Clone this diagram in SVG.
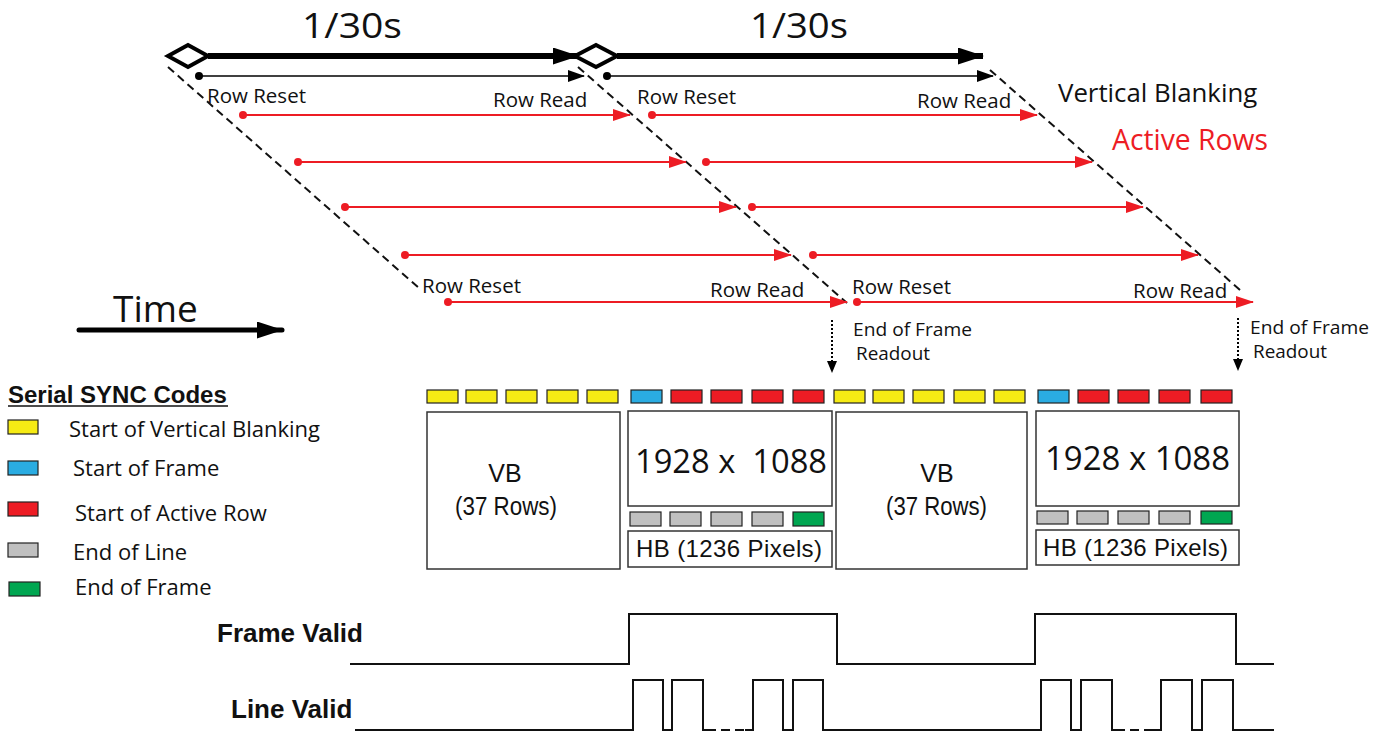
<svg xmlns="http://www.w3.org/2000/svg" width="1387" height="734" viewBox="0 0 1387 734">
<style>
.os{font-family:"Open Sans","Noto Sans",sans-serif;fill:#111}
.ar{font-family:"Liberation Sans",Arial,sans-serif;fill:#111}
.b{font-weight:bold}
.box{fill:#fff;stroke:#333;stroke-width:1.5}
.sc{stroke:#222;stroke-width:1.2}
.y{fill:#f6eb14}.bl{fill:#2aace2}.r{fill:#ed1c24}.g{fill:#c0c0c0}.gr{fill:#00a651}
.red{stroke:#ed1c24;stroke-width:2;fill:none}
.dash{stroke:#111;stroke-width:2;stroke-dasharray:8 5;fill:none}
.wave{stroke:#111;stroke-width:2;fill:none}
</style>
<defs>
<marker id="hThick" markerUnits="userSpaceOnUse" markerWidth="26" markerHeight="17" refX="25" refY="8.5" orient="auto"><path d="M0,0 L26,8.5 L0,17 z" fill="#000"/></marker>
<marker id="hThin" markerUnits="userSpaceOnUse" markerWidth="17" markerHeight="12" refX="16" refY="6" orient="auto"><path d="M0,0 L17,6 L0,12 z" fill="#000"/></marker>
<marker id="hRed" markerUnits="userSpaceOnUse" markerWidth="18" markerHeight="12" refX="17" refY="6" orient="auto"><path d="M0,0 L18,6 L0,12 z" fill="#ed1c24"/></marker>
<marker id="dRed" markerUnits="userSpaceOnUse" markerWidth="10" markerHeight="10" refX="5" refY="5"><circle cx="5" cy="5" r="4" fill="#ed1c24"/></marker>
<marker id="dBlk" markerUnits="userSpaceOnUse" markerWidth="10" markerHeight="10" refX="5" refY="5"><circle cx="5" cy="5" r="4" fill="#000"/></marker>
<marker id="hDot" markerUnits="userSpaceOnUse" markerWidth="12" markerHeight="10" refX="11" refY="5" orient="auto"><path d="M0,0 L12,5 L0,10 z" fill="#000"/></marker>
</defs>
<rect width="1387" height="734" fill="#fff"/>

<g id="connectors">
  <polygon points="168,56 188,45 208,56 188,67" fill="#fff" stroke="#000" stroke-width="4"/>
  <line x1="208" y1="56" x2="578" y2="56" stroke="#000" stroke-width="6" marker-end="url(#hThick)"/>
  <polygon points="575,56 596,45 617,56 596,67" fill="#fff" stroke="#000" stroke-width="4"/>
  <line x1="617" y1="56" x2="983" y2="56" stroke="#000" stroke-width="6" marker-end="url(#hThick)"/>
  <line x1="199" y1="76" x2="584" y2="76" stroke="#000" stroke-width="1.5" marker-start="url(#dBlk)" marker-end="url(#hThin)"/>
  <line x1="607" y1="76" x2="993" y2="76" stroke="#000" stroke-width="1.5" marker-start="url(#dBlk)" marker-end="url(#hThin)"/>
  <line class="dash" x1="168" y1="67" x2="420" y2="289"/>
  <line class="dash" x1="578" y1="67" x2="847" y2="303"/>
  <line class="dash" x1="990" y1="70" x2="1240" y2="290"/>
  <line class="red" x1="243" y1="115" x2="630" y2="115" marker-start="url(#dRed)" marker-end="url(#hRed)"/>
  <line class="red" x1="652" y1="115" x2="1037" y2="115" marker-start="url(#dRed)" marker-end="url(#hRed)"/>
  <line class="red" x1="298" y1="162" x2="686" y2="162" marker-start="url(#dRed)" marker-end="url(#hRed)"/>
  <line class="red" x1="706" y1="162" x2="1092" y2="162" marker-start="url(#dRed)" marker-end="url(#hRed)"/>
  <line class="red" x1="345" y1="207" x2="736" y2="207" marker-start="url(#dRed)" marker-end="url(#hRed)"/>
  <line class="red" x1="752" y1="207" x2="1143" y2="207" marker-start="url(#dRed)" marker-end="url(#hRed)"/>
  <line class="red" x1="405" y1="255" x2="791" y2="255" marker-start="url(#dRed)" marker-end="url(#hRed)"/>
  <line class="red" x1="813" y1="255" x2="1198" y2="255" marker-start="url(#dRed)" marker-end="url(#hRed)"/>
  <line class="red" x1="448" y1="302" x2="847" y2="302" marker-start="url(#dRed)" marker-end="url(#hRed)"/>
  <line class="red" x1="857" y1="302" x2="1253" y2="302" marker-start="url(#dRed)" marker-end="url(#hRed)"/>
  <line x1="832" y1="320" x2="832" y2="372" stroke="#000" stroke-width="2" stroke-dasharray="2 2" marker-end="url(#hDot)"/>
  <line x1="1238" y1="318" x2="1238" y2="370" stroke="#000" stroke-width="2" stroke-dasharray="2 2" marker-end="url(#hDot)"/>
  <line x1="79" y1="330" x2="282" y2="330" stroke="#000" stroke-width="5" stroke-linecap="round" marker-end="url(#hThick)"/>
</g>

<g id="timing-labels">
  <text class="os" x="302" y="38" font-size="35.5" textLength="100" lengthAdjust="spacingAndGlyphs">1/30s</text>
  <text class="os" x="750" y="38" font-size="35.5" textLength="98" lengthAdjust="spacingAndGlyphs">1/30s</text>
  <text class="os" x="207" y="103" font-size="20.5">Row Reset</text>
  <text class="os" x="493" y="107" font-size="20.5">Row Read</text>
  <text class="os" x="637" y="104" font-size="20.5">Row Reset</text>
  <text class="os" x="917" y="108" font-size="20.5">Row Read</text>
  <text class="os" x="422" y="293" font-size="20.5">Row Reset</text>
  <text class="os" x="710" y="297" font-size="20.5">Row Read</text>
  <text class="os" x="852" y="294" font-size="20.5">Row Reset</text>
  <text class="os" x="1133" y="298" font-size="20.5">Row Read</text>
  <text class="os" x="1058" y="102" font-size="25.8">Vertical Blanking</text>
  <text class="os" x="1112" y="150" font-size="28.3" style="fill:#ed1c24">Active Rows</text>
  <text class="os" x="853" y="336" font-size="17.5" textLength="119" lengthAdjust="spacingAndGlyphs">End of Frame</text>
  <text class="os" x="856" y="360" font-size="17.5" textLength="74" lengthAdjust="spacingAndGlyphs">Readout</text>
  <text class="os" x="1250" y="334" font-size="17.5" textLength="119" lengthAdjust="spacingAndGlyphs">End of Frame</text>
  <text class="os" x="1253" y="358" font-size="17.5" textLength="74" lengthAdjust="spacingAndGlyphs">Readout</text>
  <text class="os" x="113" y="322" font-size="37">Time</text>
</g>

<g id="legend">
  <text class="ar b" x="8" y="403" font-size="24">Serial SYNC Codes</text>
  <line x1="8" y1="406" x2="228" y2="406" stroke="#111" stroke-width="1.5"/>
  <rect class="sc y" x="8" y="420" width="30" height="14"/>
  <rect class="sc bl" x="8" y="461" width="30" height="14"/>
  <rect class="sc r" x="8" y="502" width="30" height="14"/>
  <rect class="sc g" x="8" y="543" width="30" height="14"/>
  <rect class="sc gr" x="9" y="582" width="31" height="14"/>
  <text class="os" x="69" y="437" font-size="22">Start of Vertical Blanking</text>
  <text class="os" x="73" y="476" font-size="22">Start of Frame</text>
  <text class="os" x="75" y="521" font-size="22">Start of Active Row</text>
  <text class="os" x="73" y="560" font-size="22">End of Line</text>
  <text class="os" x="75" y="595" font-size="22">End of Frame</text>
</g>

<g id="sync-codes-1">
  <rect class="sc y" x="427" y="390" width="31" height="13"/>
  <rect class="sc y" x="466" y="390" width="31" height="13"/>
  <rect class="sc y" x="506" y="390" width="31" height="13"/>
  <rect class="sc y" x="547" y="390" width="31" height="13"/>
  <rect class="sc y" x="587" y="390" width="31" height="13"/>
  <rect class="sc bl" x="631" y="390" width="31" height="13"/>
  <rect class="sc r" x="671" y="390" width="31" height="13"/>
  <rect class="sc r" x="711" y="390" width="31" height="13"/>
  <rect class="sc r" x="752" y="390" width="31" height="13"/>
  <rect class="sc r" x="793" y="390" width="31" height="13"/>
</g>
<g id="sync-codes-2">
  <rect class="sc y" x="834" y="390" width="31" height="13"/>
  <rect class="sc y" x="873" y="390" width="31" height="13"/>
  <rect class="sc y" x="913" y="390" width="31" height="13"/>
  <rect class="sc y" x="954" y="390" width="31" height="13"/>
  <rect class="sc y" x="994" y="390" width="31" height="13"/>
  <rect class="sc bl" x="1038" y="390" width="31" height="13"/>
  <rect class="sc r" x="1078" y="390" width="31" height="13"/>
  <rect class="sc r" x="1118" y="390" width="31" height="13"/>
  <rect class="sc r" x="1159" y="390" width="31" height="13"/>
  <rect class="sc r" x="1201" y="390" width="31" height="13"/>
</g>

<g id="vb-1">
  <rect class="box" x="427" y="412" width="193" height="157"/>
  <text class="ar" x="505" y="482" font-size="25" text-anchor="middle">VB</text>
  <text class="ar" x="455" y="515" font-size="25" textLength="102" lengthAdjust="spacingAndGlyphs">(37 Rows)</text>
</g>
<g id="frame-1">
  <rect class="box" x="628" y="411" width="204" height="95"/>
  <text class="os" x="635" y="473" font-size="32" xml:space="preserve" textLength="192" lengthAdjust="spacingAndGlyphs">1928 x  1088</text>
</g>
<g id="eol-1">
  <rect class="sc g" x="630" y="512" width="31" height="14"/>
  <rect class="sc g" x="670" y="512" width="31" height="14"/>
  <rect class="sc g" x="711" y="512" width="31" height="14"/>
  <rect class="sc g" x="752" y="512" width="31" height="14"/>
  <rect class="sc gr" x="793" y="512" width="31" height="14"/>
</g>
<g id="hb-1">
  <rect class="box" x="628" y="531" width="204" height="36"/>
  <text class="ar" x="636" y="557" font-size="24" textLength="186" lengthAdjust="spacing">HB (1236 Pixels)</text>
</g>

<g id="vb-2">
  <rect class="box" x="836" y="412" width="191" height="157"/>
  <text class="ar" x="937" y="482" font-size="25" text-anchor="middle">VB</text>
  <text class="ar" x="886" y="515" font-size="25" textLength="101" lengthAdjust="spacingAndGlyphs">(37 Rows)</text>
</g>
<g id="frame-2">
  <rect class="box" x="1036" y="411" width="203" height="95"/>
  <text class="os" x="1045" y="470" font-size="32" textLength="185" lengthAdjust="spacingAndGlyphs">1928 x 1088</text>
</g>
<g id="eol-2">
  <rect class="sc g" x="1037" y="511" width="31" height="13"/>
  <rect class="sc g" x="1077" y="511" width="31" height="13"/>
  <rect class="sc g" x="1118" y="511" width="31" height="13"/>
  <rect class="sc g" x="1159" y="511" width="31" height="13"/>
  <rect class="sc gr" x="1201" y="511" width="31" height="13"/>
</g>
<g id="hb-2">
  <rect class="box" x="1036" y="530" width="203" height="35"/>
  <text class="ar" x="1043" y="556" font-size="24" textLength="185" lengthAdjust="spacing">HB (1236 Pixels)</text>
</g>

<g id="frame-valid">
  <text class="ar b" x="217" y="642" font-size="26">Frame Valid</text>
  <path class="wave" d="M350,664 H629 V614 H837 V664 H1035 V614 H1236 V664 H1274"/>
</g>
<g id="line-valid">
  <text class="ar b" x="231" y="718" font-size="26">Line Valid</text>
  <path class="wave" d="M355,730 H633 V680 H663 V730 H672 V680 H703 V730 H707"/>
  <path class="wave" d="M707,730 H747" stroke-dasharray="9 5"/>
  <path class="wave" d="M745,730 H753 V680 H783 V730 H793 V680 H823 V730 H1041 V680 H1071 V730 H1081 V680 H1112 V730 H1116"/>
  <path class="wave" d="M1116,730 H1154" stroke-dasharray="9 5"/>
  <path class="wave" d="M1153,730 H1161 V680 H1192 V730 H1202 V680 H1233 V730 H1274"/>
</g>
</svg>
